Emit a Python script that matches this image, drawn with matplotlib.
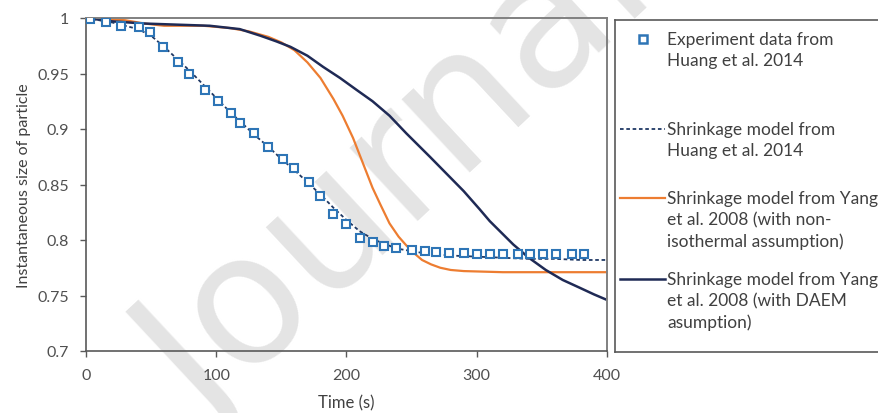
import matplotlib
matplotlib.use('Agg')
import matplotlib.pyplot as plt
from matplotlib.lines import Line2D

plt.rcParams['font.family'] = ['Lato', 'DejaVu Sans']

# experiment data (Huang et al. 2014)
exp_t = [3, 15, 27, 41, 49, 59, 71, 79, 91, 101, 111, 118, 129, 140, 151, 160, 171, 180,
         190, 200, 210, 220, 229, 238, 250, 260, 269, 279, 290, 300, 310, 320, 332, 341,
         351, 361, 373, 382]
exp_y = [0.999, 0.996, 0.993, 0.992, 0.987, 0.974, 0.960, 0.950, 0.935, 0.925, 0.914, 0.905,
         0.896, 0.884, 0.873, 0.865, 0.852, 0.840, 0.823, 0.814, 0.802, 0.798, 0.795, 0.793,
         0.791, 0.790, 0.789, 0.788, 0.788, 0.787, 0.787, 0.787, 0.787, 0.787, 0.787, 0.787,
         0.787, 0.787]

# shrinkage model, Huang et al. 2014
huang_t = [0, 10, 20, 30, 40, 50, 60, 70, 80, 90, 100, 110, 120, 130, 140, 150, 160, 170,
           180, 190, 200, 210, 220, 230, 240, 250, 260, 280, 300, 320, 340, 360, 380, 400]
huang_y = [1.0, 0.998, 0.996, 0.993, 0.990, 0.984, 0.974, 0.963, 0.952, 0.940, 0.928, 0.916,
           0.905, 0.894, 0.884, 0.873, 0.863, 0.852, 0.841, 0.829, 0.818, 0.808, 0.801, 0.796,
           0.792, 0.790, 0.788, 0.786, 0.785, 0.784, 0.783, 0.783, 0.782, 0.782]

# Yang et al. 2008, non-isothermal
yni_t = [0, 15, 30, 45, 60, 90, 110, 125, 140, 150, 160, 170, 180, 190, 197, 205, 213, 220,
         226, 233, 240, 246, 252, 258, 265, 272, 280, 290, 320, 400]
yni_y = [1.0, 0.999, 0.998, 0.995, 0.993, 0.993, 0.991, 0.988, 0.983, 0.978, 0.971, 0.960,
         0.946, 0.927, 0.912, 0.892, 0.868, 0.847, 0.832, 0.815, 0.803, 0.795, 0.788, 0.782,
         0.778, 0.775, 0.773, 0.772, 0.771, 0.771]

# Yang et al. 2008, DAEM
ydaem_t = [0, 20, 45, 70, 95, 118, 134, 146, 157, 170, 182, 195, 208, 220, 233, 246, 264,
           290, 302, 310, 328, 340, 353, 366, 379, 390, 400]
ydaem_y = [1.0, 0.997, 0.995, 0.994, 0.993, 0.990, 0.984, 0.979, 0.974, 0.966, 0.956, 0.946,
           0.935, 0.925, 0.912, 0.896, 0.875, 0.844, 0.828, 0.817, 0.796, 0.784, 0.773,
           0.764, 0.757, 0.751, 0.746]

legend_labels = ['Experiment data from\nHuang et al. 2014',
                 'Shrinkage model from\nHuang et al. 2014',
                 'Shrinkage model from Yang\net al. 2008 (with non-\nisothermal assumption)',
                 'Shrinkage model from Yang\net al. 2008 (with DAEM\nasumption)']

C_EXP = '#2e75b6'
C_HUANG = '#1f3864'
C_ORANGE = '#ed7d31'
C_NAVY = '#1f2a55'
TXT = '#404040'

W, H = 879, 414
fig = plt.figure(figsize=(W/100, H/100), dpi=100)
ax = fig.add_axes([86/W, 1-352/H, (607-86)/W, (352-19)/H])
ax.set_facecolor('none')

# watermark
fig.text(400/W, 1-178/H, 'Journal', rotation=43, fontsize=130, color='#e4e4e4',
         ha='center', va='center', zorder=-5, family='DejaVu Sans')

ax.plot(yni_t, yni_y, color=C_ORANGE, lw=1.6, zorder=2)
ax.plot(ydaem_t, ydaem_y, color=C_NAVY, lw=1.8, zorder=2)
ax.plot(huang_t, huang_y, color=C_HUANG, lw=1.3, ls=(0, (2, 1.5)), zorder=3)
ax.plot(exp_t, exp_y, ls='none', marker='s', ms=6, mfc='white', mec=C_EXP, mew=1.5, zorder=4)

ax.set_xlim(0, 400)
ax.set_ylim(0.7, 1.0)
ax.set_xticks([0, 100, 200, 300, 400])
ax.set_yticks([0.7, 0.75, 0.8, 0.85, 0.9, 0.95, 1.0])
ax.set_yticklabels(['0.7', '0.75', '0.8', '0.85', '0.9', '0.95', '1'])
ax.tick_params(direction='out', length=4, width=1, colors='#595959', labelcolor='#505050',
               labelsize=11.5, pad=8)
for s in ['left', 'bottom']:
    ax.spines[s].set_color('#595959')
    ax.spines[s].set_linewidth(1.2)
for s in ['top', 'right']:
    ax.spines[s].set_color('#808080')
    ax.spines[s].set_linewidth(1.4)
ax.set_xlabel('Time (s)', fontsize=12, color=TXT, labelpad=9)
ax.set_ylabel('Instantaneous size of particle', fontsize=11.5, color=TXT, labelpad=5)

# legend box
lax = fig.add_axes([615/W, 1-353/H, 300/W, (353-21)/H])
lax.set_xlim(0, 300)
lax.set_ylim(353, 21)
lax.set_xticks([])
lax.set_yticks([])
lax.set_facecolor('white')
for s in lax.spines.values():
    s.set_color('#595959')
    s.set_linewidth(1.2)
handles = [
    Line2D([28], [40], ls='none', marker='s', ms=6, mfc='white', mec=C_EXP, mew=1.8),
    Line2D([5, 50], [130, 130], color=C_HUANG, lw=1.3, ls=(0, (2, 1.5))),
    Line2D([5, 50], [199, 199], color=C_ORANGE, lw=1.6),
    Line2D([5, 50], [280, 280], color=C_NAVY, lw=1.8),
]
for h, lab in zip(handles, legend_labels):
    lax.add_line(h)
    y0 = h.get_ydata()[0]
    lax.text(52, y0 - 8, lab, fontsize=12.5, color=TXT, va='top', ha='left',
             linespacing=1.38)

fig.savefig('out.png', dpi=100)
